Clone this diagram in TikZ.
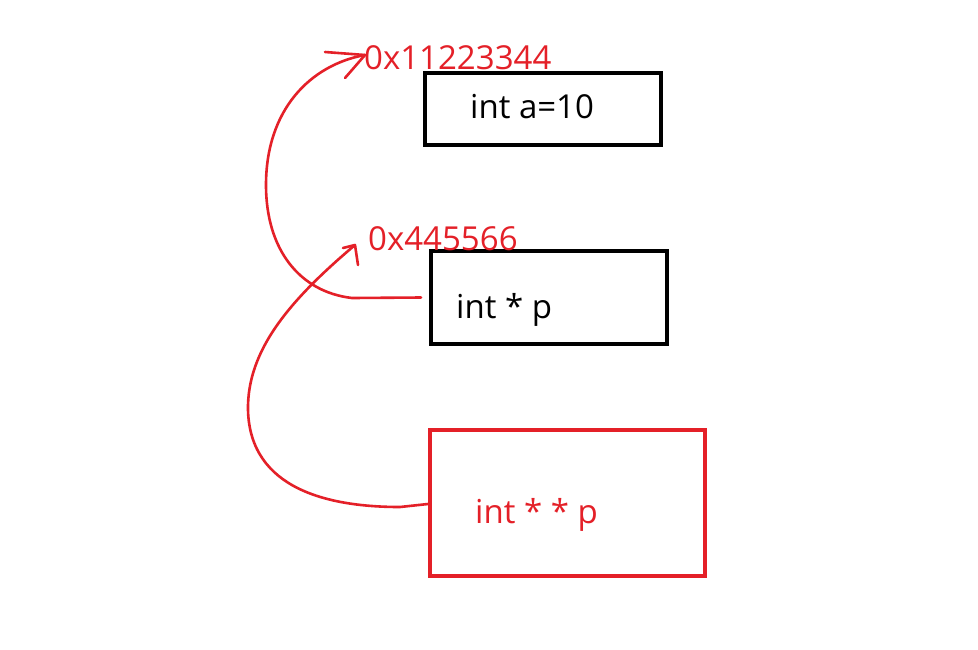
\documentclass[tikz,border=0pt]{standalone}
\usepackage{fontspec}
\setmainfont{Open Sans}
\definecolor{penred}{RGB}{228,32,40}
\begin{document}
\begin{tikzpicture}[x=1pt,y=-1pt,
  box/.style={draw=black,line width=4pt,inner sep=0pt},
  redbox/.style={draw=penred,line width=4pt,inner sep=0pt},
  txt/.style={anchor=base west,inner sep=0pt,font=\fontsize{33}{36}\selectfont},
  redtxt/.style={txt,text=penred},
  pen/.style={draw=penred,line width=2.6pt,line cap=round,line join=round}]
\useasboundingbox[fill=white] (0,0) rectangle (978,649);
% boxes
\node[box,minimum width=236pt,minimum height=72pt] (A) at (543,109) {};
\node[box,minimum width=236pt,minimum height=93pt] (P) at (549,297.5) {};
\node[redbox,minimum width=275pt,minimum height=146pt] (PP) at (567.5,503) {};
% texts
\node[txt] (ta) at (470,118) {int a=10};
\node[txt] (tp) at (456,318) {int * p};
\node[redtxt] (tpp) at (475,523) {int * * p};
\node[redtxt] (l1) at (364,69) {0x11223344};
\node[redtxt] (l2) at (368,250) {0x445566};
% connector 1: from int * p to 0x11223344
\coordinate (s1) at ([xshift=-8pt]P.west);
\coordinate (h1) at (365,55);
\draw[pen] (s1) -- (352,298) .. controls (300,292) and (266,250) .. (266,185)
  .. controls (266,110) and (310,65) .. (h1);
\draw[pen] (325,52) -- (h1) -- (345,78);
% connector 2: from int * * p to 0x445566
\coordinate (s2) at (PP.west |- 0,504);
\coordinate (h2) at (355,245);
\draw[pen] (s2) -- (400,507) .. controls (330,507) and (250,490) .. (248,410)
  .. controls (247,350) and (290,300) .. (h2);
\draw[pen] (343,248) -- (h2) -- (358,265);
\end{tikzpicture}
\end{document}
